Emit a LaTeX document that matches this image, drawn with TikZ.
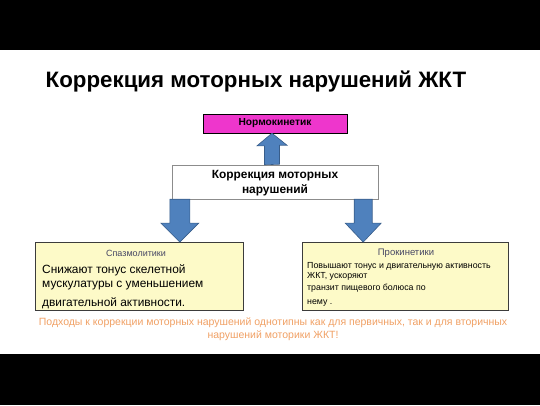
\documentclass[tikz,border=0pt]{standalone}
\usepackage{fontspec}
\setmainfont{Liberation Sans}
\usetikzlibrary{positioning,calc}
\definecolor{pinkbox}{RGB}{238,54,204}
\definecolor{arrowblue}{RGB}{79,129,189}
\definecolor{arrowedge}{RGB}{56,93,138}
\definecolor{boxyellow}{RGB}{253,250,200}
\definecolor{boxedge}{RGB}{60,60,60}
\definecolor{boxgray}{RGB}{140,140,140}
\definecolor{notetext}{RGB}{240,160,100}
\definecolor{headtext}{RGB}{70,70,100}
\begin{document}
\begin{tikzpicture}[x=1pt, y=-1pt,
    blockarrow/.style={fill=arrowblue, draw=arrowedge, line width=0.6pt},
    yellowbox/.style={draw=boxedge, fill=boxyellow, line width=0.8pt, minimum height=68pt, inner sep=0pt}]
  \useasboundingbox (0,0) rectangle (540,405);
  \fill[black] (0,0) rectangle (540,50);
  \fill[black] (0,354) rectangle (540,405);
  \node[font=\bfseries\fontsize{22.3}{26}\selectfont] (title) at (256,82) {Коррекция моторных нарушений ЖКТ};
  % boxes
  \node[draw, fill=pinkbox, minimum width=144pt, minimum height=19pt, inner sep=0pt,
        font=\bfseries\fontsize{10.2}{12}\selectfont] (norm) at (275,123.5) {Нормокинетик};
  \node[draw=boxgray, fill=white, minimum width=206pt, minimum height=34pt, inner sep=0pt,
        align=center, font=\bfseries\fontsize{11.9}{15}\selectfont] (corr) at (275,182) {\strut Коррекция моторных\\нарушений};
  \node[yellowbox, minimum width=208pt] (spaz) at (139,276.5) {};
  \node[yellowbox, minimum width=206pt] (prok) at (405,276.5) {};
  % texts in the boxes
  \node[text=headtext, font=\fontsize{9}{11}\selectfont] (spazhead) at (136,253) {Спазмолитики};
  \node[anchor=north west, align=left, inner sep=0pt, font=\fontsize{11.9}{14.5}\selectfont] (spazbody) at (42,264)
    {Снижают тонус скелетной\\мускулатуры с уменьшением\\[4pt]двигательной активности.};
  \node[text=headtext, font=\fontsize{9.5}{11}\selectfont] (prokhead) at (406,253) {Прокинетики};
  \node[anchor=north west, align=left, inner sep=0pt, font=\fontsize{8.8}{9.5}\selectfont] (prokbody) at (307,262.5)
    {Повышают тонус и двигательную активность\\ЖКТ, ускоряют\\[3pt]транзит пищевого болюса по\\[4pt]нему .};
  % block arrows
  \coordinate (up) at (norm.south -| 272,0);
  \coordinate (left) at ($(corr.south west)+(8,0)$);
  \coordinate (right) at ($(corr.south east)+(-15,0)$);
  \draw[blockarrow] (up |- corr.north) ++(-7.5,0) -- ++(0,-19) -- ++(-7.5,0) -- (up) -- ++(15,12) -- ++(-7.5,0) -- ++(0,19) -- cycle;
  \draw[blockarrow] ($(left)+(-10,0)$) -- ($(left |- spaz.north)+(-10,-19)$) -- ++(-9,0) -- (left |- spaz.north)
    -- ++(19,-19) -- ++(-9,0) -- ($(left)+(10,0)$) -- cycle;
  \draw[blockarrow] ($(right)+(-9,0)$) -- ($(right |- prok.north)+(-9,-19)$) -- ++(-9,0) -- (right |- prok.north)
    -- ++(18,-19) -- ++(-9,0) -- ($(right)+(9,0)$) -- cycle;
  % note
  \node[text=notetext, align=center, font=\fontsize{10.5}{13}\selectfont] (note) at (273,329)
    {Подходы к коррекции моторных нарушений однотипны как для первичных, так и для вторичных\\нарушений моторики ЖКТ!};
\end{tikzpicture}
\end{document}
